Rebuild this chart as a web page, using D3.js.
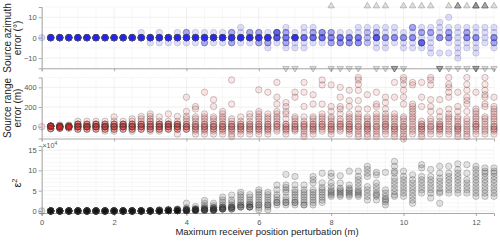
<!DOCTYPE html>
<html>
<head>
<meta charset="utf-8">
<script src="https://cdn.jsdelivr.net/npm/d3@7"></script>
<style>
  body { margin: 0; background: #fff; }
  text { font-family: "Liberation Sans", Arial, sans-serif; }
</style>
</head>
<body>
<svg id="chart" width="500" height="241"></svg>
<script>
// perturbation levels (m)
const perturb = [0, 0.25, 0.5, 0.75, 1, 1.25, 1.5, 1.75, 2, 2.25, 2.5, 2.75, 3, 3.25, 3.5, 3.75,
  4, 4.25, 4.5, 4.75, 5, 5.25, 5.5, 5.75, 6, 6.25, 6.5, 6.75, 7, 7.25, 7.5, 7.75,
  8, 8.25, 8.5, 8.75, 9, 9.25, 9.5, 9.75, 10, 10.25, 10.5, 10.75, 11, 11.25, 11.5, 11.75,
  12, 12.25, 12.5];

// azimuth error levels (deg) and number of trials on each level
const azLevels = [10, 7.5, 5, 2.5, 0, -2.5, -5, -7.5, -10];
const azCounts = [
  [0,0,0,0,1,0,0,0,0], [0,0,0,0,20,0,0,0,0], [0,0,0,0,20,0,0,0,0], [0,0,0,0,20,0,0,0,0],
  [0,0,0,0,20,0,0,0,0], [0,0,0,0,20,0,0,0,0], [0,0,0,0,20,0,0,0,0], [0,0,0,0,20,0,0,0,0],
  [0,0,0,0,20,0,0,0,0], [0,0,0,0,20,0,0,0,0], [0,0,0,0,20,0,0,0,0], [0,0,0,1,19,0,0,0,0],
  [0,0,0,0,19,1,0,0,0], [0,0,0,1,18,1,0,0,0], [0,0,0,0,19,1,0,0,0], [0,0,0,1,18,1,0,0,0],
  [0,0,0,3,16,1,0,0,0], [0,0,0,1,18,1,0,0,0], [0,0,0,1,16,3,0,0,0], [0,0,0,1,18,1,0,0,0],
  [0,0,0,1,18,1,0,0,0], [0,0,0,3,14,3,0,0,0], [0,0,1,1,17,1,0,0,0], [0,0,0,3,16,1,0,0,0],
  [0,0,0,3,14,3,0,0,0], [0,0,0,1,15,3,1,0,0], [0,0,0,7,8,1,0,0,0], [0,0,1,3,5,3,1,0,0],
  [0,0,0,1,14,1,1,0,0], [0,0,1,1,6,1,1,0,0], [0,0,1,3,6,1,0,0,0], [0,0,0,4,6,1,0,0,0],
  [0,0,0,3,4,3,0,0,0], [0,0,0,1,5,4,0,0,0], [0,0,0,1,5,4,0,0,0], [0,0,1,1,5,4,0,0,0],
  [0,0,1,2,2,2,0,0,0], [0,0,1,3,8,1,1,0,0], [0,0,1,1,4,1,1,0,0], [0,0,1,1,4,1,0,0,0],
  [0,0,0,1,4,1,1,0,0], [0,0,3,1,4,1,1,0,0], [0,0,1,3,1,7,1,0,0], [0,0,1,3,1,1,1,1,0],
  [0,1,1,1,4,0,0,1,0], [1,0,1,3,4,1,0,1,0], [0,0,1,1,1,1,1,1,1], [0,0,1,3,4,1,1,0,0],
  [0,0,1,1,4,1,1,1,0], [0,0,1,1,1,1,0,0,0], [0,0,1,1,4,3,1,0,0]
];
// trials beyond +15 / below -15 deg (drawn as triangles)
const azAbove = [0,0,0,0,0,0,0,0,0,0,0,0,0,0,0,0,0,0,0,0,0,0,0,0,0,0,0,0,0,0,0,0,
  1,0,0,0,1,1,1,0,1,1,1,1,0,1,3,1,4,3,1];
const azBelow = [0,0,0,0,0,0,0,0,0,0,0,0,0,0,0,0,0,0,0,0,0,0,0,0,0,0,0,1,1,0,1,0,
  1,1,1,1,0,1,1,3,1,0,0,0,3,1,1,1,3,1,1];

// source range error (m), one value per trial
const rangeErr = [
  [0],
  [5,5,5,5,5,5,5,5,5,5,5,5,5,5,5,5,-20,-20,-20,-20],
  [15,15,0,0,0,0,0,0,0,0,0,0,0,0,0,0,-15,-15,-15,-15],
  [15,15,0,0,0,0,0,0,0,0,0,0,0,0,0,0,0,0,-15,-15],
  [55,25,25,25,25,25,0,0,0,0,0,0,0,0,0,-25,-25,-25],
  [55,25,25,25,25,0,0,0,0,0,0,0,0,0,0,-25,-25,-25],
  [55,25,25,25,25,25,0,0,0,0,0,0,0,0,-25,-25,-25],
  [55,25,25,25,25,0,0,0,0,0,0,0,0,-25,-25,-25,-45],
  [100,55,25,25,25,25,0,0,0,0,0,0,-25,-25,-25,-45],
  [55,25,25,25,25,25,0,0,0,0,0,0,0,-25,-25,-25],
  [80,55,25,25,25,25,0,0,0,0,0,0,-25,-25,-25,-45],
  [105,80,55,25,25,25,25,0,0,0,0,0,-25,-25,-25],
  [130,105,80,55,55,25,25,25,0,0,0,0,-25,-25,-25,-45],
  [100,55,25,25,25,25,0,0,0,0,0,-25,-25,-25,-45],
  [130,55,25,25,25,25,25,0,0,0,0,0,-25,-25,-25],
  [105,55,25,25,25,25,0,0,0,0,0,-25,-25,-25,-75],
  [300,155,105,80,55,25,25,0,0,0,0,-25,-25,-25],
  [205,180,100,80,55,25,25,0,0,0,-25,-25,-45,-75],
  [350,130,100,80,55,25,25,0,0,0,-25,-25,-45,-75],
  [275,205,100,80,55,25,25,0,0,0,-25,-25,-45,-75],
  [155,130,100,80,55,25,25,0,0,0,-25,-25,-45,-75],
  [475,230,80,55,25,25,0,0,0,-25,-25,-45,-75,-100],
  [100,55,25,25,0,0,0,-25,-25,-45,-75],
  [130,100,55,25,25,0,0,-25,-25,-45,-75],
  [375,155,130,100,80,55,25,25,0,0,-25,-25,-45,-75],
  [350,130,100,80,55,25,25,0,0,-25,-25,-45,-75],
  [450,300,230,155,130,100,80,55,25,25,0,0,-25,-45],
  [245,205,155,130,80,25,25,0,0,-25,-25,-45,-75],
  [350,300,100,80,55,25,25,0,0,-25,-25,-45],
  [450,350,205,100,55,25,25,0,0,-25,-45,-75,-100],
  [325,230,100,80,55,25,25,0,0,-25,-25,-45,-75],
  [475,425,230,130,100,80,55,25,25,0,0,-25,-45],
  [425,205,155,100,80,55,25,25,0,0,-25,-25,-45,-75],
  [400,300,205,180,130,80,55,25,25,0,0,-25,-45],
  [370,265,205,130,100,80,55,25,25,0,0,-25,-25,-45,-75],
  [500,475,430,370,265,180,130,100,80,55,25,0,0,-25,-45,-75,-100],
  [325,180,100,80,55,25,25,0,0,-25,-25,-45,-75,-100],
  [350,230,205,130,100,80,55,25,0,0,-25,-45,-75,-100],
  [300,245,180,130,100,80,55,25,25,0,0,-25,-45,-75],
  [450,300,130,100,80,55,25,0,0,-25,-25,-45,-75,-100],
  [500,475,430,370,300,230,100,80,55,25,0,0,-25,-45,-75,-100,-125],
  [450,425,230,205,180,155,130,100,80,55,25,0,-25,-45,-75],
  [450,300,205,55,25,25,0,0,-25,-25,-45,-75,-100],
  [500,475,425,275,205,155,80,55,25,0,0,-25,-45,-75],
  [275,155,100,55,25,25,0,0,-25,-25,-45,-75],
  [500,430,400,350,300,180,130,100,80,55,25,0,-25,-45,-75],
  [350,205,155,100,80,55,25,0,0,-25,-25,-45,-75,-100],
  [500,430,370,300,265,230,155,80,55,25,0,-25,-45,-75,-100],
  [350,180,155,130,100,80,55,25,25,0,0,-25,-45,-75],
  [500,430,370,325,300,230,205,100,80,55,25,0,-25,-45,-75],
  [300,205,180,155,130,100,80,55,25,0,0,-25,-25,-45,-75]
];

// epsilon^2 (x 1e4), one value per trial
const eps2 = [
  [0],
  [0,0,0,0,0,0,0,0,0,0,0,0,0,0,0,0,0,0,0,0], [0,0,0,0,0,0,0,0,0,0,0,0,0,0,0,0,0,0,0,0],
  [0,0,0,0,0,0,0,0,0,0,0,0,0,0,0,0,0,0,0,0], [0,0,0,0,0,0,0,0,0,0,0,0,0,0,0,0,0,0,0,0],
  [0,0,0,0,0,0,0,0,0,0,0,0,0,0,0,0,0,0,0,0], [0,0,0,0,0,0,0,0,0,0,0,0,0,0,0,0,0,0,0,0],
  [0,0,0,0,0,0,0,0,0,0,0,0,0,0,0,0,0,0,0,0], [0,0,0,0,0,0,0,0,0,0,0,0,0,0,0,0,0,0,0,0],
  [0,0,0,0,0,0,0,0,0,0,0,0,0,0,0,0,0,0,0,0], [0.05,0,0,0,0,0,0,0,0,0,0,0,0,0,0,0,0,0,0,0],
  [0.05,0.05,0,0,0,0,0,0,0,0,0,0,0,0,0,0,0,0,0,0], [0.1,0.05,0.05,0,0,0,0,0,0,0,0,0,0,0,0,0,0,0,0,0],
  [0.3,0.1,0.1,0.1,0.1,0.1,0.1,0.1,0.1,0.1,0,0,0,0,0,0,0,0,0,0],
  [0.4,0.2,0.2,0.2,0.2,0.2,0.2,0.1,0.1,0.1,0.1,0.1,0.1,0.1,0.1,0.1,0.1,0.1,0.1,0.1],
  [0.5,0.3,0.3,0.3,0.3,0.3,0.1,0.1,0.1,0.1,0.1,0.1,0.1,0.1,0.1,0.1,0.1,0.1,0.1,0.1],
  [1.9,0.8,0.5,0.3,0.3,0.3,0.3,0.1,0.1,0.1,0.1,0.1,0.1,0.1,0.1],
  [1.1,0.6,0.4,0.4,0.4,0.4,0.2,0.2,0.2,0.2,0.2,0.2,0.2,0.2],
  [2.6,1.9,1.3,0.8,0.8,0.4,0.4,0.4,0.4,0.2,0.2,0.2,0.2],
  [1.9,1.3,0.8,0.8,0.8,0.4,0.4,0.4,0.4,0.2,0.2,0.2,0.2],
  [3.4,2.7,2.1,1.5,1.0,0.9,0.9,0.5,0.5,0.5,0.5,0.5],
  [3.9,2.7,2.1,1.5,1.1,0.9,0.9,0.9,0.5,0.5,0.5],
  [4.6,4.0,3.4,2.7,2.1,1.5,1.5,1.0,1.0,1.0],
  [4.0,3.4,2.7,2.1,1.6,1.6,1.0,1.0,1.0,1.0],
  [5.2,4.6,4.0,3.4,2.7,2.1,1.5,1.5,0.9,0.3],
  [4.6,4.0,3.4,2.7,2.1,1.5,1.5,1.0,0.3],
  [6.4,5.2,4.0,3.4,2.7,2.1,2.1,1.5],
  [9.0,6.4,5.8,5.2,4.6,3.4,2.7,2.1,2.1,1.5],
  [8.5,6.4,5.2,4.6,4.0,3.4,2.7,2.1,2.1,1.5],
  [6.4,5.2,4.6,4.0,3.4,2.7,2.1,1.5,1.5],
  [8.5,7.7,6.9,5.2,4.6,4.0,3.4,2.7,2.1,1.5],
  [9.3,6.9,5.8,5.2,4.6,4.0,3.4,2.7,2.1],
  [9.3,8.5,6.9,6.0,5.2,4.8,4.4,4.0,3.6],
  [8.7,6.9,5.6,5.2,4.8,4.4,4.0,3.6],
  [9.8,6.4,5.6,5.2,4.8,4.4,4.0,3.6],
  [9.8,8.5,7.7,6.9,6.0,5.2,4.8,4.4,4.0,3.6],
  [11.0,10.2,9.3,8.5,6.0,5.2,4.4,3.6,2.7],
  [9.5,8.9,6.9,6.0,5.2,4.4,4.0,3.6,2.7],
  [9.5,5.2,4.4,3.6,3.0,2.7,2.2,1.5],
  [12.2,11.0,9.8,9.3,8.1,7.3,6.5,5.6,4.8,4.0,3.6],
  [9.8,8.5,7.7,6.9,6.0,5.2,4.4,3.6],
  [8.9,7.7,6.9,6.0,5.2,4.4,3.6,2.7,1.9],
  [11.4,10.6,8.5,7.7,6.9,6.0,5.2,4.4],
  [10.2,8.5,7.7,6.9,6.0,5.2,4.4,3.2],
  [11.0,9.3,8.1,7.3,6.5,5.6,4.8,4.4,1.9],
  [11.0,9.3,8.5,7.7,6.9,6.0,5.2,4.4],
  [11.6,10.2,9.3,8.5,7.7,6.9,6.0,5.2,4.4],
  [11.4,9.3,7.7,6.9,6.0,5.2,4.4],
  [11.0,10.2,9.3,8.5,7.7,6.9,6.0,5.2,4.4,3.6],
  [10.6,9.8,9.3,8.5,7.7,6.9,6.0,5.2,4.4,3.6],
  [10.6,9.8,9.3,8.5,7.7,6.9,6.0,5.2,4.4,3.6]
];

const svg = d3.select("#chart");
const x = d3.scaleLinear().domain([0, 12.5]).range([41.7, 494]);
const xTicks = [0, 2, 4, 6, 8, 10, 12];
const r = 3.2;

const panels = [
  {y: d3.scaleLinear().domain([-15, 15]).range([68.3, 7]), ticks: [-10, 0, 10], minor: d3.range(-15, 16, 5),
    fill: "#1a1aff", op: 0.15},
  {y: d3.scaleLinear().domain([-120, 500]).range([138.5, 77.5]), ticks: [0, 200, 400], minor: d3.range(-100, 501, 100),
    fill: "#e41010", op: 0.11},
  {y: d3.scaleLinear().domain([-0.5, 16]).range([213, 146]), ticks: [0, 5, 10, 15], minor: d3.range(0, 16, 1),
    fill: "#000", op: 0.11}
];

panels.forEach((p, k) => {
  const g = svg.append("g");
  const [y0, y1] = p.y.range();
  // grid
  g.selectAll(".vg").data(d3.range(0, 12.51, 0.5)).enter().append("line")
    .attr("x1", d => x(d)).attr("x2", d => x(d)).attr("y1", y0).attr("y2", y1)
    .attr("stroke", d => d % 2 === 0 ? "#e9e9e9" : "#f4f4f4").attr("stroke-width", 0.7);
  g.selectAll(".hg").data(p.minor).enter().append("line")
    .attr("x1", x(0)).attr("x2", x(12.5)).attr("y1", d => p.y(d)).attr("y2", d => p.y(d))
    .attr("stroke", d => p.ticks.includes(d) ? "#e9e9e9" : "#f4f4f4").attr("stroke-width", 0.7);

  // axes
  const ya = g.append("g").attr("transform", `translate(${x(0)},0)`)
    .call(d3.axisLeft(p.y).tickValues(p.ticks).tickSize(3).tickPadding(2));
  const xa = g.append("g").attr("transform", `translate(0,${y0})`)
    .call(d3.axisBottom(x).tickValues(xTicks).tickSize(3).tickPadding(4)
      .tickFormat(k === 2 ? d3.format("d") : ""));
  [ya, xa].forEach(a => {
    a.select(".domain").attr("stroke", "#a8a8a8").attr("stroke-width", 1);
    a.selectAll(".tick line").attr("stroke", "#a8a8a8");
    a.selectAll("text").attr("fill", "#555").style("font-size", "7.5px");
  });
  p.g = g;
});

// azimuth points
const azPts = [];
perturb.forEach((px, i) => {
  azCounts[i].forEach((c, j) => { for (let n = 0; n < c; n++) azPts.push([px, azLevels[j]]); });
});
panels[0].g.selectAll(".pt").data(azPts).enter().append("circle")
  .attr("cx", d => x(d[0])).attr("cy", d => panels[0].y(d[1])).attr("r", r)
  .attr("fill", panels[0].fill).attr("fill-opacity", panels[0].op)
  .attr("stroke", "#555").attr("stroke-opacity", 0.3).attr("stroke-width", 0.7);

// out of range triangles
const tri = d3.symbol().type(d3.symbolTriangle).size(18);
const outPts = [];
perturb.forEach((px, i) => {
  for (let n = 0; n < azAbove[i]; n++) outPts.push([px, 15, 1]);
  for (let n = 0; n < azBelow[i]; n++) outPts.push([px, -15, -1]);
});
panels[0].g.selectAll(".tri").data(outPts).enter().append("path")
  .attr("d", tri)
  .attr("transform", d => `translate(${x(d[0])},${panels[0].y(d[1]) + (d[2] > 0 ? -1 : 0)}) rotate(${d[2] > 0 ? 0 : 180})`)
  .attr("fill", "#555").attr("fill-opacity", 0.18)
  .attr("stroke", "#555").attr("stroke-opacity", 0.45).attr("stroke-width", 0.7);

// range + eps points
[[rangeErr, 1], [eps2, 2]].forEach(([data, k]) => {
  const pts = [];
  perturb.forEach((px, i) => data[i].forEach(v => pts.push([px, v])));
  panels[k].g.selectAll(".pt").data(pts).enter().append("circle")
    .attr("cx", d => x(d[0])).attr("cy", d => panels[k].y(d[1])).attr("r", r)
    .attr("fill", panels[k].fill).attr("fill-opacity", panels[k].op)
    .attr("stroke", "#444").attr("stroke-opacity", 0.4).attr("stroke-width", 0.7);
});

// labels
const lab = (lines, cx, cy, size) => {
  const t = svg.append("text").attr("transform", `translate(${cx},${cy}) rotate(-90)`)
    .attr("text-anchor", "middle").attr("fill", "#222").style("font-size", size + "px");
  lines.forEach((s, i) => t.append("tspan").attr("x", 0).attr("dy", i ? "1.05em" : 0).text(s));
};
lab(["Source azimuth", "error (°)"], 10.5, 38, 10);
lab(["Source range", "error (m)"], 10.5, 108, 10);
svg.append("text").attr("transform", "translate(21,183) rotate(-90)").attr("text-anchor", "middle")
  .attr("fill", "#222").style("font-size", "11px").html("ε<tspan dy='-4' font-size='7.5px'>2</tspan>");
svg.append("text").attr("x", 42.5).attr("y", 147.5).attr("fill", "#555").style("font-size", "7px")
  .html("×10<tspan dy='-3' font-size='5px'>4</tspan>");
svg.append("text").attr("x", 267).attr("y", 235).attr("text-anchor", "middle").attr("fill", "#222")
  .style("font-size", "9.5px").text("Maximum receiver position perturbation (m)");
</script>
</body>
</html>
